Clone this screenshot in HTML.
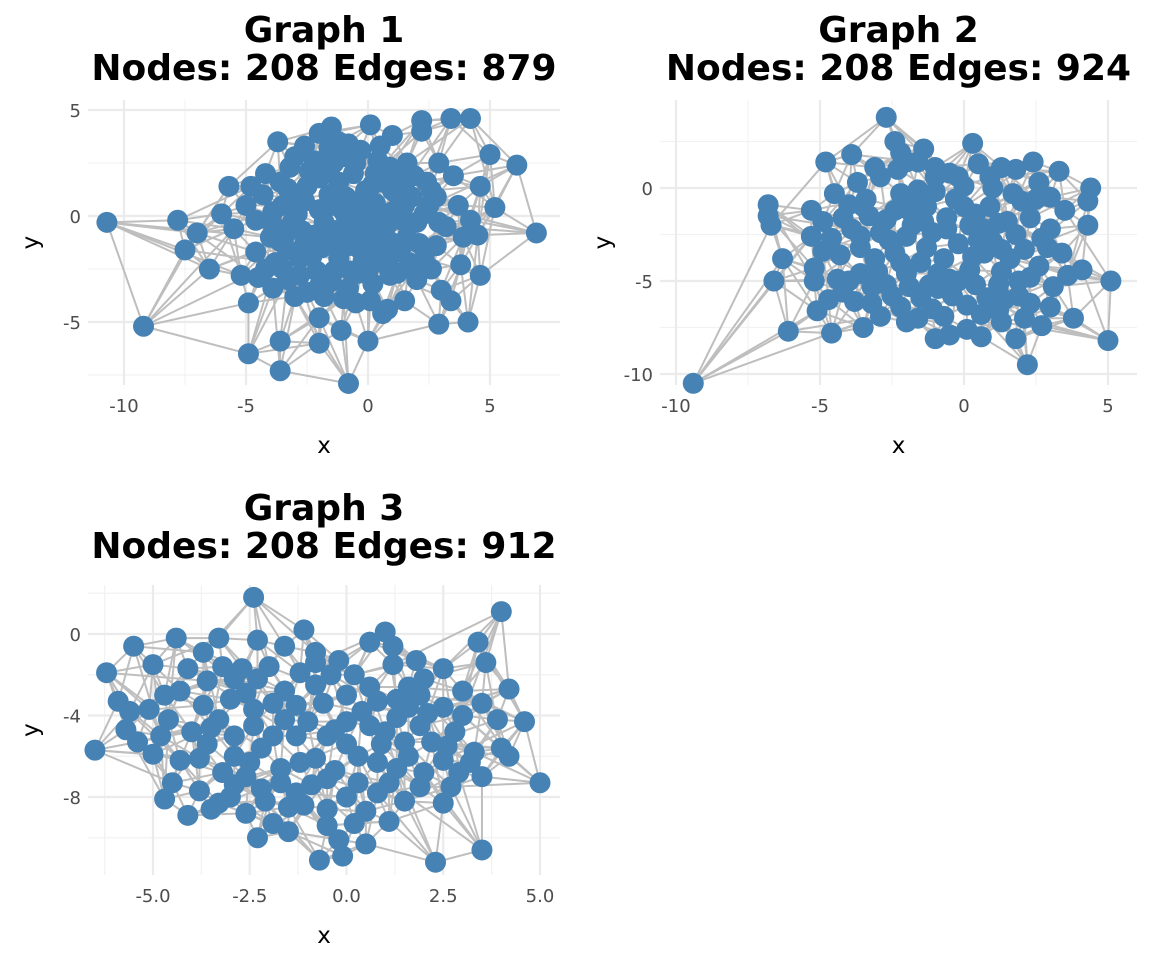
<!DOCTYPE html>
<html><head><meta charset="utf-8"><style>
body{margin:0;background:#fff;}
svg{display:block;font-family:"DejaVu Sans","Liberation Sans",sans-serif;}
.tick{fill:#4d4d4d;font-size:18px;}
.title{font-weight:bold;font-size:36px;fill:#000;}
.axl{font-size:23px;fill:#000;}
</style></head><body>
<svg id="chart" width="1152" height="960"></svg>
<script>
const g1Nodes=[[-10.7,-0.3],[-7.8,-0.2],[-9.2,-5.2],[-7.5,-1.6],[-7.0,-0.8],[-6.5,-2.5],[-6.0,0.1],[-5.7,1.4],[-5.5,-0.6],[-5.2,-2.8],[-4.9,-4.1],[-4.9,-6.5],[-4.8,1.4],[-3.7,3.5],[-3.6,-5.9],[-3.6,-7.3],[-2.0,-4.8],[-2.0,-6.0],[-1.6,3.9],[-1.6,3.2],[-1.1,-5.4],[-0.8,-7.9],[-0.4,-2.7],[0.6,-4.6],[0.0,-5.9],[0.8,-4.4],[0.1,4.3],[1.0,3.8],[2.2,4.5],[2.2,4.0],[3.4,4.6],[4.2,4.6],[5.0,2.9],[6.1,2.4],[6.9,-0.8],[5.2,0.4],[4.6,-2.8],[4.6,1.4],[3.7,0.5],[3.9,-1.0],[2.9,2.5],[2.9,-5.1],[4.1,-5.0],[3.4,-4.0],[3.8,-2.3],[2.6,-2.5],[2.1,-1.3],[-1.5,4.2],[-0.8,3.4],[-2.6,3.3],[-2.0,3.9],[1.6,2.5],[1.5,1.5],[2.5,0.5],[3.5,1.9],[4.2,-0.2],[4.5,-0.9],[3.0,-3.5],[2.0,-3.0],[1.5,-4.0],[1.2,-2.7],[-3.0,-3.8],[-3.9,-3.4],[-4.5,-2.9],[-2.5,-3.6],[-1.5,-3.1],[-0.5,-4.1],[0.2,-3.2],[1.0,-1.8],[-4.0,-1.0],[-3.5,0.5],[-4.3,1.0],[-3.2,2.3],[-2.2,2.6],[-1.0,2.8],[0.4,2.6],[0.6,1.6],[1.2,1.0],[-0.1,1.2],[-1.2,1.6],[-2.5,1.4],[-3.0,0.8],[-2.0,0.3],[-1.0,0.2],[0.0,0.0],[1.0,0.2],[2.0,-0.3],[1.6,-1.0],[0.5,-1.0],[-0.5,-0.8],[-1.5,-1.0],[-2.7,-0.7],[-3.3,-1.6],[-2.3,-1.9],[-1.2,-2.0],[-0.2,-2.1],[0.9,-2.8],[-2.8,-2.8],[-3.8,-2.2],[-4.6,-0.2],[-5.0,0.5],[-4.2,2.0],[-3.6,1.6],[-1.8,-0.3],[-0.8,-1.4],[0.3,0.6],[1.8,0.9],[2.8,-1.4],[3.2,-0.5],[-0.3,3.1],[-2.4,-1.2],[-1.6,1.0],[-0.6,2.0],[0.8,-0.4],[-3.9,-0.4],[-2.1,-2.6],[-1.4,-2.6],[-0.8,-3.4],[0.3,-1.6],[-2.9,0.1],[-1.1,-0.6],[0.1,-0.7],[-0.4,0.6],[1.4,-0.2],[-2.0,1.8],[-3.4,-0.9],[-1.7,2.3],[0.9,2.3],[2.4,1.6],[2.8,0.9],
[-3.5,-2.5],[-2.6,-1.3],[-1.9,-1.5],[-1.3,-1.3],[-0.7,-2.6],[0.0,-2.6],[0.6,-2.2],[1.4,-1.4],[1.7,-2.2],[2.3,-2.0],[-3.0,2.8],[-2.4,2.1],[-1.4,2.5],[-0.5,2.5],[0.3,2.0],[1.2,2.0],[1.9,1.9],[-3.3,1.3],[-2.6,0.7],[-1.4,0.5],[-0.6,-0.1],[0.6,0.1],[1.5,0.5],[2.3,0.1],[-3.1,-0.3],[-2.2,-0.9],[-0.4,-1.5],[0.9,-1.2],[-4.6,-1.7],[-3.9,0.2],[-4.2,-2.5],[-3.3,-3.0],[-1.8,-3.8],[-1.0,-3.9],[0.1,-4.0],[1.9,-2.5],[2.9,-0.3],[2.6,1.2],[-1.2,3.5],[0.5,3.3],[-2.0,-3.3],[-2.8,-2.0],[-3.6,-1.2],[-1.6,-0.6],[-0.9,0.9],[0.2,1.5],[1.0,1.2],[-0.2,-1.1]];
const g2Nodes=[[-9.4,-10.5],[-6.1,-7.7],[-6.8,-0.9],[-6.8,-1.5],[-6.7,-2.0],[-6.3,-3.8],[-6.6,-5.0],[-5.3,-1.2],[-5.3,-2.6],[-5.2,-4.3],[-5.2,-5.0],[-5.1,-6.6],[-4.9,-1.8],[-4.8,1.4],[-4.5,-0.3],[-4.6,-7.8],[-4.4,-4.9],[-3.9,1.8],[-3.5,-7.5],[-3.8,-6.1],[-2.7,3.8],[-2.4,2.5],[-2.2,1.9],[-1.4,2.1],[0.3,2.4],[-1.6,1.4],[0.5,1.3],[1.3,1.1],[2.4,1.4],[3.3,0.9],[4.4,0.0],[4.3,-0.7],[4.3,-2.0],[4.1,-4.4],[3.8,-7.0],[5.1,-5.0],[5.0,-8.2],[2.2,-9.5],[1.8,-8.1],[1.3,-7.2],[0.6,-8.0],[-1.0,-8.1],[-0.5,-7.9],[0.1,-7.6],[2.7,-7.4],[3.0,-6.4],[2.3,-6.2],[3.4,-3.5],[3.6,-4.7],[3.0,-0.5],[2.5,-0.6],[3.0,-2.2],[1.9,-5.0],[-2.0,-7.2],[-2.9,-6.9],[-3.2,-5.3],[-4.3,-3.6],[-3.9,-2.2],[-3.4,-0.6],[-2.9,0.6],[-1.9,-0.6],[-1.0,-0.2],[0.0,0.1],[1.0,0.0],[2.0,-0.7],[1.5,-1.8],[0.4,-1.4],[-0.6,-1.6],[-1.8,-2.0],[-2.9,-2.4],[-3.6,-3.2],[-2.4,-3.5],[-1.3,-3.2],[-0.2,-3.0],[1.0,-2.9],[2.1,-3.3],[2.6,-4.2],[1.3,-4.5],[0.2,-4.4],[-0.9,-4.6],[-2.0,-4.6],[-3.0,-4.5],[-2.5,-5.8],[-1.5,-5.9],[-0.4,-5.8],[0.8,-5.9],[1.9,-5.8],[-0.7,-6.9],[0.6,-6.8],[-1.6,-7.0],[-4.0,-0.9],[-2.3,1.0],[-1.0,1.1],[1.8,1.0],[3.5,-1.2],[2.7,-2.7],[-4.6,-2.7],[-3.3,-1.5],[-1.1,-2.4],[0.9,-1.0],[2.3,-1.6],[-0.2,-5.0],[1.6,-3.8],[-3.7,0.3],[-0.5,0.8],[0.7,-2.2],[-1.5,-4.0],[-2.6,-2.8],[-4.2,-5.6],[-3.1,1.1],[-0.3,-0.6],[-1.9,-1.2],[0.3,-3.7],[-1.2,-5.2],[-2.2,-0.3],[1.2,-5.2],
[-3.5,-1.0],[-2.7,-1.7],[-2.0,-2.6],[-1.3,-1.0],[-0.6,-2.2],[0.2,-2.0],[1.2,-1.9],[1.8,-2.5],[-3.1,-3.8],[-2.2,-4.0],[-0.7,-3.8],[0.7,-3.5],[1.3,-3.3],[2.3,-4.8],[-3.6,-4.6],[-2.7,-5.2],[-1.9,-5.3],[-0.9,-5.4],[0.4,-5.2],[1.4,-6.0],[-3.2,-6.2],[-2.2,-6.4],[-1.1,-6.5],[0.1,-6.3],[1.2,-6.6],[2.1,-7.0],[-1.6,-0.1],[-0.2,0.6],[0.9,0.6],[1.7,-0.3],[2.6,0.3],[-4.2,-1.6],[-3.6,-2.6],[-4.9,-3.4],[-4.0,-5.0],[0.0,-1.0],[-1.4,-1.8],[0.5,-2.8],[-0.5,-4.9],[-2.4,-1.2],[2.9,-3.2],[3.1,-5.3],[-4.7,-6.0],[-1.0,0.6],[-2.0,1.4]];
const g3Nodes=[[-6.5,-5.7],[-6.2,-1.9],[-5.9,-3.3],[-5.5,-0.6],[-5.4,-5.3],[-5.0,-1.5],[-5.1,-3.7],[-4.7,-8.1],[-4.4,-0.2],[-4.1,-8.9],[-3.7,-0.9],[-3.3,-0.2],[-3.3,-8.3],[-2.4,1.8],[-2.3,-0.3],[-2.3,-10.0],[-1.9,-9.3],[-1.1,0.2],[-0.7,-11.1],[-0.1,-10.9],[-0.2,-10.1],[0.5,-10.3],[0.6,-0.4],[1.0,0.1],[1.2,-0.6],[2.3,-11.2],[3.5,-10.6],[3.4,-0.4],[4.0,1.1],[3.6,-1.4],[4.2,-2.7],[3.5,-3.4],[4.6,-4.3],[4.0,-5.6],[3.5,-7.0],[5.0,-7.3],[2.7,-7.5],[2.5,-8.3],[1.1,-9.2],[-1.5,-9.7],[-3.2,-6.8],[-4.3,-6.2],[-4.0,-4.8],[-5.0,-5.9],[-4.6,-4.2],[-4.3,-2.8],[-4.1,-1.7],[-3.6,-2.3],[-3.0,-3.2],[-2.7,-1.7],[-2.0,-1.6],[-1.6,-0.6],[-0.8,-0.9],[-0.2,-1.3],[0.2,-2.0],[1.2,-1.5],[2.0,-2.2],[2.5,-1.7],[3.0,-2.8],[2.5,-3.6],[1.6,-3.6],[0.8,-3.3],[0.0,-3.0],[-0.8,-2.5],[-1.6,-2.8],[-2.4,-3.7],[-3.3,-4.2],[-2.9,-5.0],[-1.9,-5.0],[-1.0,-4.3],[0.0,-4.3],[1.0,-4.8],[1.9,-4.5],[2.8,-4.8],[3.3,-5.8],[2.5,-6.2],[1.6,-6.0],[0.8,-6.3],[0.0,-5.4],[-0.8,-6.1],[-1.7,-6.6],[-2.5,-6.3],[-3.6,-5.4],[-2.2,-7.6],[-1.3,-7.8],[-0.5,-7.1],[0.3,-7.3],[1.1,-7.3],[1.9,-7.5],[0.5,-8.7],[-0.5,-8.6],[-1.1,-8.4],[-2.1,-8.2],[-2.9,-7.4],[-3.8,-7.7],[-3.5,-8.6],[3.2,-6.3],[4.2,-6.0],[-5.7,-4.7],[-1.3,-3.5],[1.6,-2.6],[-0.3,-6.7],[0.9,-5.4],[-2.9,-2.2],[2.2,-5.3],[-1.6,-4.2],[-4.5,-7.3],[-0.5,-5.0],[-2.2,-5.6],[1.3,-4.1],
[-3.2,-1.6],[-2.3,-2.2],[-1.2,-1.9],[-0.4,-2.0],[0.6,-2.6],[1.9,-3.0],[-3.7,-3.5],[-2.6,-2.9],[-1.9,-3.4],[-0.6,-3.4],[0.4,-3.8],[1.3,-3.2],[2.1,-3.9],[-3.5,-4.6],[-2.4,-4.5],[-1.3,-5.0],[-0.3,-4.7],[0.6,-4.5],[1.5,-5.3],[2.6,-5.5],[-3.8,-6.1],[-2.9,-6.0],[-1.2,-6.3],[0.3,-6.0],[1.3,-6.6],[2.0,-6.8],[-2.6,-7.0],[-1.7,-7.3],[-0.9,-7.4],[0.8,-7.8],[1.5,-8.2],[-3.0,-8.0],[-1.5,-8.5],[0.0,-8.0],[-4.8,-5.0],[-5.6,-3.8],[-4.7,-3.0],[3.9,-4.2],[3.0,-4.0],[2.9,-6.8],[-0.5,-9.4],[0.2,-9.3],[-2.6,-8.8],[1.8,-1.3],[-0.8,-1.4]];
const g1XTicks=[-10,-5,0,5], g1YTicks=[5,0,-5];
const g2XTicks=[-10,-5,0,5], g2YTicks=[0,-5,-10];
const g3XTicks=[-5,-2.5,0,2.5,5], g3YTicks=[0,-4,-8];
const g3XLabels=["-5.0","-2.5","0.0","2.5","5.0"];

const NS="http://www.w3.org/2000/svg", svg=document.getElementById('chart');
function mk(t,a,p){const e=document.createElementNS(NS,t);for(const k in a)e.setAttribute(k,a[k]);(p||svg).appendChild(e);return e;}
function panel(o){
  const gp=mk('g',{});
  
  
  const sx=v=>o.px0+(v-o.xd[0])/(o.xd[1]-o.xd[0])*(o.px1-o.px0);
  const sy=v=>o.py0+(v-o.yd[0])/(o.yd[1]-o.yd[0])*(o.py1-o.py0);
  const L=o.L,R=o.R,T=o.T,B=o.B;
  o.xMinor.forEach(v=>mk('line',{x1:sx(v),x2:sx(v),y1:T,y2:B,stroke:'#f2f2f2','stroke-width':1.2},gp));
  o.yMinor.forEach(v=>mk('line',{x1:L,x2:R,y1:sy(v),y2:sy(v),stroke:'#f2f2f2','stroke-width':1.2},gp));
  o.xt.forEach((v,i)=>{mk('line',{x1:sx(v),x2:sx(v),y1:T,y2:B,stroke:'#ebebeb','stroke-width':2.2},gp);
    const t=mk('text',{x:sx(v),y:B+27,'text-anchor':'middle',class:'tick'},gp);t.textContent=o.xl?o.xl[i]:String(v);
    });
  o.yt.forEach(v=>{mk('line',{x1:L,x2:R,y1:sy(v),y2:sy(v),stroke:'#ebebeb','stroke-width':2.2},gp);
    const t=mk('text',{x:L-7,y:sy(v)+7,'text-anchor':'end',class:'tick'},gp);t.textContent=String(v);
    });
  const n=o.nodes, pts=n.map(p=>[sx(p[0]),sy(p[1])]);
  const eg=mk('g',{stroke:'#bebebe','stroke-width':2,fill:'none'},gp);
  
  const seen=new Set();
  pts.forEach((p,i)=>{
    const d=pts.map((q,j)=>[j,(q[0]-p[0])**2+(q[1]-p[1])**2]).filter(a=>a[0]!==i).sort((a,b)=>a[1]-b[1]);
    d.slice(0,5).concat([d[9],d[16]]).forEach(a=>{const j=a[0],k=i<j?i+'_'+j:j+'_'+i;if(seen.has(k))return;seen.add(k);
      const l=mk('line',{x1:p[0],y1:p[1],x2:pts[j][0],y2:pts[j][1]},eg);
      });
  });
  const ng=mk('g',{fill:'#4682b4'},gp);
  pts.forEach(p=>{const c=mk('circle',{cx:p[0],cy:p[1],r:10.5},ng);
    });
  const cx=(L+R)/2;
  const t1=mk('text',{x:cx,y:o.ty,'text-anchor':'middle',class:'title'},gp);t1.textContent=o.t1;
  
  const t2=mk('text',{x:cx,y:o.ty+38,'text-anchor':'middle',class:'title'},gp);t2.textContent=o.t2;
  
  const xa=mk('text',{x:(L+R)/2,y:B+68,'text-anchor':'middle',class:'axl'},gp);xa.textContent='x';
  
  const yy=(T+B)/2;
  const ya=mk('text',{x:o.yax,y:yy,'text-anchor':'middle',class:'axl',transform:`rotate(-90 ${o.yax} ${yy})`},gp);ya.textContent='y';
  
}
panel({name:'graph-1-panel',nodes:g1Nodes,xd:[-10,5],px0:124,px1:490,yd:[5,-5],py0:110,py1:322,
  L:88,R:560,T:100,B:385,xt:g1XTicks,yt:g1YTicks,xMinor:[-7.5,-2.5,2.5],yMinor:[2.5,-2.5,-7.5],
  t1:'Graph 1',t2:'Nodes: 208 Edges: 879',ty:42,yax:38});
panel({name:'graph-2-panel',nodes:g2Nodes,xd:[-10,5],px0:676,px1:1108,yd:[0,-10],py0:188,py1:374,
  L:660,R:1137,T:100,B:385,xt:g2XTicks,yt:g2YTicks,xMinor:[-7.5,-2.5,2.5],yMinor:[2.5,-2.5,-7.5],
  t1:'Graph 2',t2:'Nodes: 208 Edges: 924',ty:42,yax:610});
panel({name:'graph-3-panel',nodes:g3Nodes,xd:[-5,5],px0:153,px1:540,yd:[0,-8],py0:634,py1:797,
  L:88,R:560,T:585,B:875,xt:g3XTicks,xl:g3XLabels,yt:g3YTicks,xMinor:[-3.75,-1.25,1.25,3.75,-6.25],yMinor:[2,-2,-6,-10],
  t1:'Graph 3',t2:'Nodes: 208 Edges: 912',ty:520,yax:38});
</script>
</body></html>
